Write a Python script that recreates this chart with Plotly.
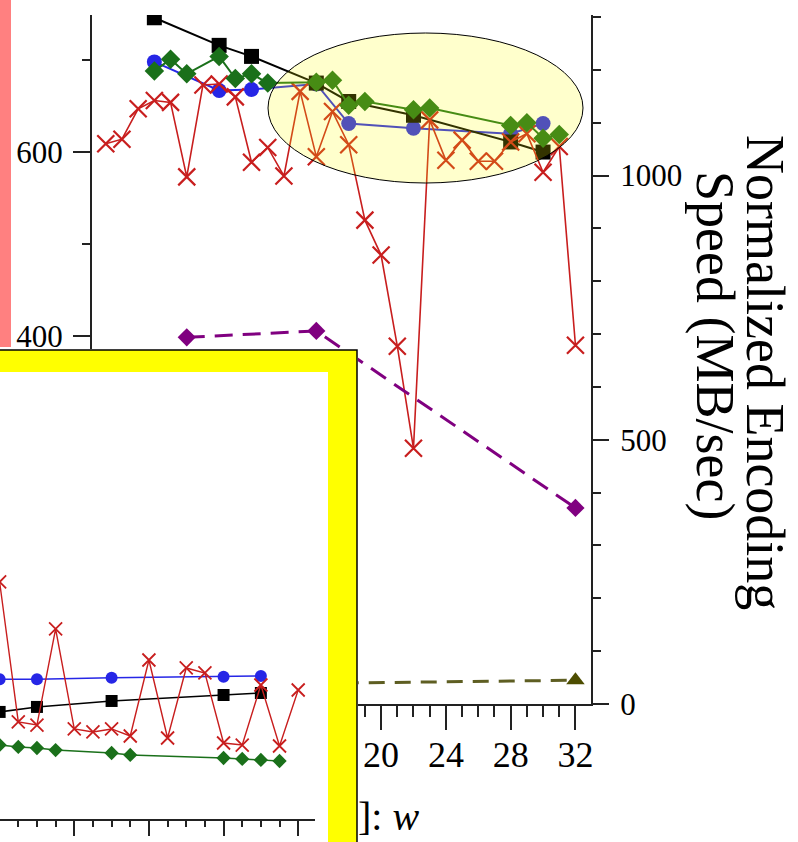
import plotly.graph_objects as go

W, H = 798, 842


def fx(p):
    return p / W


def fy(p):
    return 1 - p / H


# ---------------- main chart data ----------------
blue_x = [6, 10, 12, 16, 18, 22, 28, 30]
blue_y = [698, 667, 668, 674, 631, 626, 620, 631]

black_x = [6, 10, 12, 16, 18, 22, 28, 30]
black_y = [746, 716, 704, 675, 655, 640, 611, 600]

red_x = list(range(3, 33))
red_y = [609, 614, 647, 656, 654, 573, 673, 674, 660, 589, 605, 574, 666, 595,
         644, 608, 526, 488, 389, 278, 635, 591, 613, 590, 590, 611, 620, 578,
         606, 390]

green_x = [6, 7, 8, 10, 11, 12, 13, 16, 17, 18, 19, 22, 23, 28, 29, 30, 31]
green_y = [688, 701, 685, 704, 680, 685, 675, 676, 678, 651, 655, 646, 648,
           629, 632, 615, 619]

purple_x = [8, 16, 32]
purple_y = [694, 706, 371]

olive_x = [8, 16, 32]
olive_y = [36, 39, 45]

x_ticks = [4, 8, 12, 16, 20, 24, 28, 32]
left_ticks = [0, 200, 400, 600]
right_ticks = [0, 500, 1000]

# ---------------- inset chart data ----------------
in_blue_x = [16, 18, 22, 28, 30]
in_blue_y = [131.3, 131.3, 132.8, 133.7, 134.4]

in_black_x = [16, 18, 22, 28, 30]
in_black_y = [100.6, 105.3, 110.9, 116.5, 118.4]

in_green_x = [16, 17, 18, 19, 22, 23, 28, 29, 30, 31]
in_green_y = [69.5, 67.7, 66.7, 64.8, 62.0, 60.2, 57.3, 56.4, 55.5, 54.5]

in_red_x = list(range(16, 33))
in_red_y = [222.7, 91.2, 88.3, 178.6, 84.6, 81.8, 84.6, 78.0, 149.4, 76.1,
            141.9, 137.2, 71.4, 69.5, 125.9, 68.6, 121.2]

in_ticks = [16, 20, 24, 28, 32]

BLUE = "#2626e6"
BLACK = "#000000"
RED = "#c81e1e"
GREEN = "#1a701a"
PURPLE = "#800080"
OLIVE = "#4d4d00"
SERIF = "Liberation Serif"

fig = go.Figure()

# main solid series (left axis)
fig.add_trace(go.Scatter(x=blue_x, y=blue_y, mode="lines+markers",
                         line=dict(color=BLUE, width=2),
                         marker=dict(symbol="circle", size=15, color=BLUE),
                         xaxis="x", yaxis="y"))
fig.add_trace(go.Scatter(x=black_x, y=black_y, mode="lines+markers",
                         line=dict(color=BLACK, width=2),
                         marker=dict(symbol="square", size=15, color=BLACK),
                         xaxis="x", yaxis="y"))
fig.add_trace(go.Scatter(x=red_x, y=red_y, mode="lines+markers",
                         line=dict(color=RED, width=1.6),
                         marker=dict(symbol="x-thin", size=17, color=RED,
                                     line=dict(color=RED, width=2.2)),
                         xaxis="x", yaxis="y"))
fig.add_trace(go.Scatter(x=green_x, y=green_y, mode="lines+markers",
                         line=dict(color=GREEN, width=2),
                         marker=dict(symbol="diamond", size=15, color=GREEN),
                         xaxis="x", yaxis="y"))
# dashed series (right axis)
fig.add_trace(go.Scatter(x=purple_x, y=purple_y, mode="lines+markers",
                         line=dict(color=PURPLE, width=3, dash="18px,10px"),
                         marker=dict(symbol="diamond", size=14, color=PURPLE),
                         xaxis="x", yaxis="y2"))
fig.add_trace(go.Scatter(x=olive_x, y=olive_y, mode="lines+markers",
                         line=dict(color="#5e5e22", width=3, dash="16px,10px"),
                         marker=dict(symbol="triangle-up", size=16, color=OLIVE),
                         xaxis="x", yaxis="y2"))

# frame subplot (yellow box) - dummy trace so the subplot exists
fig.add_trace(go.Scatter(x=[None], y=[None], mode="markers",
                         xaxis="x2", yaxis="y3", hoverinfo="skip"))

# inset series
fig.add_trace(go.Scatter(x=in_blue_x, y=in_blue_y, mode="lines+markers",
                         line=dict(color=BLUE, width=1.5),
                         marker=dict(symbol="circle", size=12, color=BLUE),
                         xaxis="x3", yaxis="y4"))
fig.add_trace(go.Scatter(x=in_black_x, y=in_black_y, mode="lines+markers",
                         line=dict(color=BLACK, width=1.5),
                         marker=dict(symbol="square", size=12, color=BLACK),
                         xaxis="x3", yaxis="y4"))
fig.add_trace(go.Scatter(x=in_red_x, y=in_red_y, mode="lines+markers",
                         line=dict(color=RED, width=1.4),
                         marker=dict(symbol="x-thin", size=13, color=RED,
                                     line=dict(color=RED, width=1.8)),
                         xaxis="x3", yaxis="y4"))
fig.add_trace(go.Scatter(x=in_green_x, y=in_green_y, mode="lines+markers",
                         line=dict(color=GREEN, width=1.4),
                         marker=dict(symbol="diamond", size=11, color=GREEN),
                         xaxis="x3", yaxis="y4"))

axis_common = dict(showline=True, linecolor="#222", linewidth=2, ticks="outside",
                   tickcolor="#222", showgrid=False, zeroline=False,
                   automargin=False)
yfont = dict(family=SERIF, size=31, color="black")
xfont = dict(family=SERIF, size=36, color="black")

fig.update_layout(
    width=W, height=H,
    margin=dict(l=0, r=0, t=0, b=0, pad=0),
    paper_bgcolor="white", plot_bgcolor="white",
    showlegend=False,
    xaxis=dict(domain=[fx(92), fx(591)], range=[2.15, 32.96], anchor="y",
               tickvals=x_ticks, ticklen=24, tickwidth=2, tickfont=xfont,
               minor=dict(dtick=1, tick0=0, ticklen=11, tickwidth=1.5,
                          ticks="outside", tickcolor="#222"),
               ticklabelstandoff=-6, **axis_common),
    yaxis=dict(domain=[fy(704), fy(15)], range=[0, 749], anchor="x", side="left",
               tickvals=left_ticks, ticklen=17, tickwidth=2, tickfont=yfont,
               minor=dict(dtick=100, tick0=0, ticklen=8, tickwidth=1.5,
                          ticks="outside", tickcolor="#222"),
               ticklabelstandoff=4, **axis_common),
    yaxis2=dict(range=[0, 1304], anchor="x", overlaying="y", side="right",
                tickvals=right_ticks, ticklen=16, tickwidth=2, tickfont=yfont,
                minor=dict(dtick=100, tick0=0, ticklen=8, tickwidth=1.5,
                           ticks="outside", tickcolor="#222"),
                ticklabelstandoff=5, **axis_common),
    # frame subplot
    xaxis2=dict(domain=[0, fx(358)], range=[0, 358], anchor="y3", visible=False,
                fixedrange=True, automargin=False),
    yaxis3=dict(domain=[0, 1 - 349 / H], range=[0, H - 349], anchor="x2",
                visible=False, fixedrange=True, automargin=False),
    # inset subplot (its tick labels fall below the picture edge)
    xaxis3=dict(domain=[0, fx(315)], range=[16.02, 32.9], anchor="y4",
                tickvals=in_ticks, ticklen=15, tickwidth=2, showticklabels=False,
                minor=dict(dtick=1, tick0=0, ticklen=6, tickwidth=1.5,
                           ticks="outside", tickcolor="#222"),
                **axis_common),
    yaxis4=dict(domain=[1 - 819 / H, 1 - 372 / H], range=[0, 420], anchor="x3",
                visible=False, automargin=False),
)

fig.update_layout(shapes=[
    # salmon strip on the left edge
    dict(type="rect", xref="paper", yref="paper", x0=0, x1=fx(11), y0=fy(347), y1=1,
         fillcolor="#ff8080", line=dict(width=0), layer="below"),
    # highlighted ellipse
    dict(type="circle", xref="paper", yref="paper", x0=fx(268), x1=fx(583),
         y0=fy(183), y1=fy(33), fillcolor="rgba(255,255,0,0.2)",
         line=dict(color="black", width=1), layer="above"),
    # yellow frame
    dict(type="rect", xref="x2", yref="y3", x0=-10, x1=357, y0=-10, y1=H - 350,
         fillcolor="#ffff00", line=dict(color="black", width=1.5), layer="below"),
    dict(type="rect", xref="x2", yref="y3", x0=-10, x1=328, y0=-10, y1=H - 372,
         fillcolor="white", line=dict(width=0), layer="below"),
])

fig.update_layout(annotations=[
    dict(text="Normalized Encoding", x=fx(765), y=fy(372), xref="paper", yref="paper",
         textangle=90, showarrow=False, xanchor="center", yanchor="middle",
         font=dict(family=SERIF, size=54, color="black")),
    dict(text="Speed (MB/sec)", x=fx(715), y=fy(345), xref="paper", yref="paper",
         textangle=90, showarrow=False, xanchor="center", yanchor="middle",
         font=dict(family=SERIF, size=54, color="black")),
    dict(text="]: <i>w</i>", x=fx(356), y=fy(841), xref="paper", yref="paper",
         showarrow=False, xanchor="left", yanchor="bottom",
         font=dict(family=SERIF, size=40, color="black")),
])

fig.write_html("out.html")
